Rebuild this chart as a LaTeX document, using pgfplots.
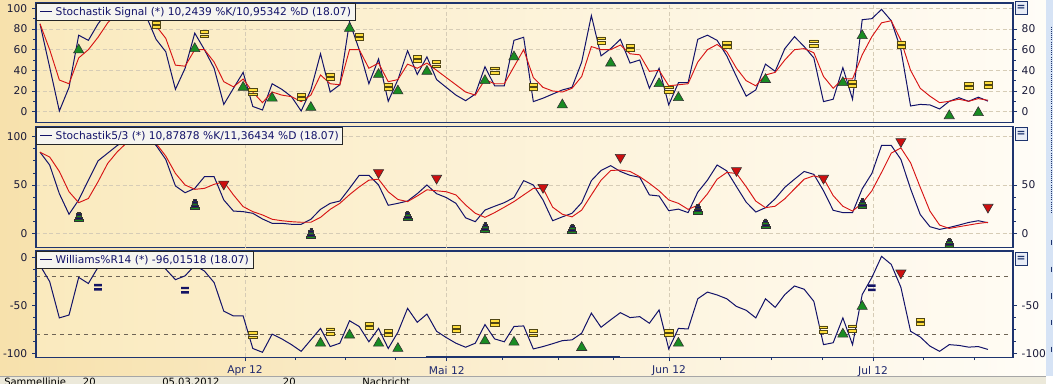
\documentclass[border=0pt]{standalone}
\usepackage{pgfplots}
\pgfplotsset{compat=1.18}
\usepackage{pgfplotstable}
\usepackage{fontspec}
\setmainfont{DejaVu Sans}

\definecolor{bgL}{RGB}{247,225,172}
\definecolor{bgR}{RGB}{255,253,248}
\definecolor{plotL}{RGB}{250,234,190}
\definecolor{plotR}{RGB}{255,251,243}
\definecolor{axnavy}{RGB}{30,52,110}
\definecolor{linenavy}{RGB}{18,18,105}
\definecolor{linered}{RGB}{215,20,20}
\definecolor{gridc}{RGB}{214,204,182}
\definecolor{levelc}{RGB}{110,100,85}
\definecolor{mkgreen}{RGB}{25,140,35}
\definecolor{mkyellow}{RGB}{255,222,60}
\definecolor{mkred}{RGB}{205,15,15}
\definecolor{mknavy}{RGB}{20,20,100}
\definecolor{mkedge}{RGB}{80,70,20}
\definecolor{legfill}{RGB}{246,245,240}
\definecolor{labc}{RGB}{25,25,55}
\definecolor{datec}{RGB}{30,40,110}
\definecolor{statusc}{RGB}{236,233,218}
\definecolor{stripc}{RGB}{214,227,245}
\definecolor{btnfill}{RGB}{232,236,246}

\pgfdeclareplotmark{eqbar}{%
  \pgfpathrectangle{\pgfpoint{-3.1pt}{0.55pt}}{\pgfpoint{6.2pt}{2.1pt}}%
  \pgfpathrectangle{\pgfpoint{-3.1pt}{-2.65pt}}{\pgfpoint{6.2pt}{2.1pt}}%
  \pgfusepathqfillstroke}
\pgfdeclareplotmark{eqnav}{%
  \pgfpathrectangle{\pgfpoint{-2.9pt}{0.7pt}}{\pgfpoint{5.8pt}{1.8pt}}%
  \pgfpathrectangle{\pgfpoint{-2.9pt}{-2.5pt}}{\pgfpoint{5.8pt}{1.8pt}}%
  \pgfusepathqfill}
\pgfdeclareplotmark{cone}{%
  \pgfsetlinewidth{0.35pt}%
  \pgfsetstrokecolor{black!80}%
  \pgfsetfillcolor{mkgreen}%
  \pgfpathrectangle{\pgfpoint{-3.3pt}{-3.6pt}}{\pgfpoint{6.6pt}{1.7pt}}%
  \pgfpathrectangle{\pgfpoint{-2.1pt}{-0.4pt}}{\pgfpoint{4.2pt}{1.4pt}}%
  \pgfusepathqfillstroke
  \pgfsetfillcolor{mknavy}%
  \pgfpathrectangle{\pgfpoint{-2.7pt}{-1.9pt}}{\pgfpoint{5.4pt}{1.5pt}}%
  \pgfpathrectangle{\pgfpoint{-1.6pt}{1.0pt}}{\pgfpoint{3.2pt}{1.4pt}}%
  \pgfpathrectangle{\pgfpoint{-0.8pt}{2.4pt}}{\pgfpoint{1.6pt}{1.1pt}}%
  \pgfusepathqfillstroke}

% Stochastik Signal: k = trading day, b = %K, r = %D
\pgfplotstableread{
k b r
0 85 85
1 43 60
2 0.6 30.6
3 23.5 27
4 74 52
5 69 60
6 85 72
7 97 86
8 100 95
9 100 98
10 96 99
11 92 96
12 70 83
13 58 71
14 21.6 45
15 42 44
16 76 60
17 60 60
18 42 48
19 7 29
20 22.6 24
21 38 31.6
22 5 19
23 1.6 8.7
24 27 19
25 21.6 16
26 14.5 14.5
27 0.6 9.7
28 21 16
29 56 35.5
30 19 27
31 26 26
32 87 60
33 60 60
34 27 42
35 51 47
36 10 29
37 31 31
38 59 46
39 36 42
40 53 47
41 31 40
42 23.5 33
43 16 26
44 10.6 19
45 17 16
46 43.5 31
47 25 27
48 25 27
49 69 43.5
50 72 60
51 9.7 33
52 13 23.5
53 17 20
54 21 19
55 23.5 22.6
56 48 34
57 93 63
58 54 60
59 61 60
60 70 64.5
61 47 56
62 50 55
63 22.6 39
64 42 40
65 6.5 25
66 28 26
67 28 27
68 70 48
69 74 60
70 69 65
71 54 58
72 34 42
73 15 30
74 21 25
75 46 35.5
76 39 38
77 61 50
78 72.6 60
79 63 61
80 52 57
81 9.7 34
82 12 22.6
83 42.6 32
84 12 31.6
85 89 55
86 90 72.6
87 99 86
88 88 88
89 60 69
90 5.5 40
91 7 22.6
92 6.5 15
93 2.6 8.7
94 10 10
95 13.5 12
96 10 10
97 14 12.6
98 10.2 11.0
}\pone

% Stochastik 5/3
\pgfplotstableread{
k b r
0 84 84
1 70.7 79
2 41 64
3 19.7 43
4 34.5 31.7
5 55 36
6 75 53.4
7 83 72.4
8 91 84.5
9 97 94
10 100 99
11 100 98
12 91 93
13 76.5 80
14 49 62
15 42 50
16 46.5 45.5
17 58.6 46.5
18 58.6 50.7
19 34.5 53.4
20 23 39.7
21 22.4 27.6
22 20.7 22.4
23 14.8 19
24 10.3 14.5
25 10.3 13
26 9.3 12
27 9.3 11.4
28 14.5 11.4
29 24.8 16.5
30 31 24.8
31 33.4 31
32 46.5 40
33 60 48
34 60 55
35 50 56
36 29 43
37 31 35
38 33.4 32.8
39 41 38.6
40 50 45
41 41 44
42 37 43
43 31 39.7
44 16 29.3
45 12 20.7
46 24 16.5
47 28 21.4
48 31.7 27
49 37 32.8
50 54.5 39.7
51 50 46.5
52 34.5 46.5
53 13 27
54 17 19.7
55 20.7 17
56 31.7 24
57 54.5 39.7
58 65 55
59 70 65
60 64 65.5
61 60 64
62 58 58.6
63 39.7 51.7
64 38.6 44
65 23.4 34.5
66 25 31
67 21.4 24.8
68 42.5 29
69 55 40.8
70 70.7 56
71 64.6 63
72 48.3 62
73 32.3 48.3
74 22 33.3
75 26.5 26.5
76 35.7 28
77 47.6 35.7
78 56 46
79 64 56
80 61 59.5
81 44 57
82 23.8 39
83 21.4 28
84 21.4 23
85 46 31.3
86 62 44
87 91 63
88 91 83
89 76.5 88.4
90 46 73
91 19.4 47.6
92 6.8 23
93 4 8.5
94 6 5
95 8.5 6.8
96 11.2 8.5
97 13 10.2
98 10.9 11.4
}\ptwo

% Williams %R 14
\pgfplotstableread{
k w
0 -8
1 -25
2 -63
3 -60
4 -20.6
5 -27
6 -10
7 -4
8 -2
9 -6
10 -1
11 -5
12 -3
13 -12
14 -23
15 -19
16 -8
17 -14
18 -26
19 -56
20 -61
21 -61
22 -95
23 -99
24 -80
25 -85
26 -91
27 -98
28 -86
29 -74
30 -93
31 -89.5
32 -66
33 -72
34 -88
35 -74
36 -95
37 -78
38 -53
39 -67.6
40 -59
41 -77
42 -83.6
43 -89.5
44 -93.7
45 -89.5
46 -70
47 -85
48 -88
49 -72
50 -71.4
51 -95.5
52 -93
53 -90
54 -86.8
55 -86
56 -79
57 -58
58 -72.8
59 -65
60 -57.5
61 -62.7
62 -61.7
63 -68.6
64 -54.7
65 -95.5
66 -74
67 -74.6
68 -43
69 -36
70 -39
71 -43
72 -51
73 -55
74 -63
75 -43
76 -52
77 -38.6
78 -29.6
79 -33
80 -45.7
81 -91
82 -89
83 -63
84 -91
85 -38.6
86 -20.7
87 1.4
88 -7
89 -31
90 -77
91 -83
92 -92.5
93 -98
94 -91
95 -91.8
96 -93.6
97 -93
98 -96
}\pthree

\pgfplotsset{
  panel/.style={
    scale only axis, width=732.75pt, anchor=north west,
    xmin=-0.414, xmax=100.59,
    axis line style={draw=axnavy, line width=0.9pt},
    tick style={draw=axnavy, line width=0.6pt},
    axis background/.style={shade, left color=plotL, right color=plotR},
    tick pos=left, tick align=outside,
    major tick length=3pt, minor tick length=2.2pt,
    tick label style={font=\fontsize{8}{9.6}\selectfont},
    yticklabel style={text=labc},
    xticklabel style={text=datec},
    major grid style={densely dashed, gridc, line width=0.5pt},
  },
  monthgrid/.style={
    xtick=\empty,
    extra x ticks={21.19,42.05,65.03,86.12},
    extra x tick labels={},
    extra x tick style={grid=major, major tick length=0pt},
  },
  rightax/.style={
    scale only axis, width=732.75pt, anchor=north west,
    xmin=-0.414, xmax=100.59, clip=false,
    axis x line=none, axis y line*=right,
    axis line style={draw=axnavy, line width=0.9pt},
    tick style={draw=axnavy, line width=0.6pt},
    tick align=outside, major tick length=3pt, minor tick length=2.2pt,
    tick label style={font=\fontsize{8}{9.6}\selectfont, text=labc},
  },
  kline/.style={linenavy, line width=0.75pt},
  dline/.style={linered, line width=0.7pt},
  upmk/.style={only marks, mark=triangle*, mark size=4.4pt,
    mark options={fill=mkgreen, draw=black!80, line width=0.45pt}},
  dnmk/.style={only marks, mark=triangle*, mark size=4.4pt,
    mark options={rotate=180, fill=mkred, draw=black!80, line width=0.45pt}},
  eqmk/.style={only marks, mark=eqbar,
    mark options={fill=mkyellow, draw=mkedge, line width=0.35pt}},
  eqnmk/.style={only marks, mark=eqnav,
    mark options={fill=mknavy}},
  conemk/.style={only marks, mark=cone},
}

\newcommand{\legbox}[1]{\node[anchor=north west, draw=black!85, fill=legfill,
  line width=0.6pt, inner xsep=3pt, inner ysep=1.5pt, minimum height=13pt,
  font=\fontsize{8}{9.6}\selectfont, text=linenavy] at (rel axis cs:0,1)
  {\rule[2.6pt]{8.5pt}{0.75pt}\hspace{3pt}#1};}

\begin{document}
\begin{tikzpicture}
\useasboundingbox (0,0) rectangle (789.75pt,-288pt);
\shade[left color=bgL, right color=bgR] (0,0) rectangle (789.75pt,-282pt);
\fill[stripc] (784.5pt,0) rectangle (789.75pt,-282pt);
\draw[axnavy, densely dotted, line width=0.6pt] (788.5pt,-20pt) -- (788.5pt,-160pt);
\foreach \yy in {-180,-200,-220,-240,-260} {\draw[axnavy, line width=0.8pt] (788.5pt,\yy pt) -- (788.5pt,\yy pt-4pt);}
\begin{scope}
\clip (0,-282pt) rectangle (789.75pt,-288pt);
\fill[statusc] (0,-282pt) rectangle (784.5pt,-288pt);
\draw[black!35, line width=0.6pt] (0,-282pt) -- (784.5pt,-282pt);
\node[anchor=north west, inner sep=0pt, font=\fontsize{7.5}{9}\selectfont] at (3pt,-283.6pt) {Sammellinie};
\node[anchor=north west, inner sep=0pt, font=\fontsize{7.5}{9}\selectfont] at (62pt,-283.6pt) {20};
\node[anchor=north west, inner sep=0pt, font=\fontsize{7.5}{9}\selectfont] at (121.5pt,-283.6pt) {05.03.2012};
\node[anchor=north west, inner sep=0pt, font=\fontsize{7.5}{9}\selectfont] at (212pt,-283.6pt) {20};
\node[anchor=north west, inner sep=0pt, font=\fontsize{7.5}{9}\selectfont] at (271.5pt,-283.6pt) {Nachricht};
\end{scope}

% ---------------- Panel 1 ----------------
\begin{axis}[panel, monthgrid, at={(27pt,-2.25pt)}, height=89.6pt,
  ymin=-10.48, ymax=105.17,
  ytick={0,20,40,60,80,100}, yticklabels={0,20,40,60,80,100},
  minor y tick num=1, ymajorgrids]
\addplot[kline] table[x=k,y=b]{\pone};
\addplot[dline] table[x=k,y=r]{\pone};
\addplot[upmk] coordinates {(4,59.7) (16,61) (21,23.5) (24,13) (28,4) (32,80.6) (35,36) (37,20) (40,39) (46,30) (49,53) (54,6.5) (59,47) (64,27) (66,13.5) (75,31) (83,28) (85,73.5) (94,-4) (97,-1)};
\addplot[eqmk] coordinates {(12,84) (17,75) (22,19) (27,14.5) (30,34) (33,72.6) (36,24) (39,51) (41,46) (47,40) (51,24) (58,69) (61,62) (65,21.6) (71,65) (80,66) (84,27) (89,65) (96,25) (98,26)};
\legbox{Stochastik Signal (*) 10,2439 \%K/10,95342 \%D (18.07)}
\end{axis}
\begin{axis}[rightax, at={(27pt,-2.25pt)}, height=89.6pt,
  ymin=-10.48, ymax=105.17,
  ytick={0,20,40,60,80}, yticklabels={0,20,40,60,80}, minor y tick num=1]
\draw[axnavy, line width=1.8pt] (axis cs:100.59,43) -- (axis cs:100.59,66);
\draw[axnavy, line width=1.8pt] (axis cs:-0.414,38.4) -- (axis cs:-0.414,45);
\end{axis}

% ---------------- Panel 2 ----------------
\begin{axis}[panel, monthgrid, at={(27pt,-95.0pt)}, height=90.75pt,
  ymin=-14.9, ymax=110.4,
  ytick={0,50,100}, yticklabels={0,50,100},
  minor y tick num=3, ymajorgrids]
\addplot[kline] table[x=k,y=b]{\ptwo};
\addplot[dline] table[x=k,y=r]{\ptwo};
\addplot[conemk] coordinates {(4,17) (16,30) (28,0) (38,18) (46,6.2) (55,4.5) (68,25) (75,10) (85,31) (94,-10)};
\addplot[dnmk] coordinates {(19,51) (35,62.8) (41,57) (52,47.6) (60,78.6) (72,65) (81,57) (89,95) (98,27)};
\legbox{Stochastik5/3 (*) 10,87878 \%K/11,36434 \%D (18.07)}
\end{axis}
\begin{axis}[rightax, at={(27pt,-95.0pt)}, height=90.75pt,
  ymin=-14.9, ymax=110.4,
  ytick={0,50}, yticklabels={0,50}, minor y tick num=3]
\draw[axnavy, line width=1.8pt] (axis cs:100.59,35) -- (axis cs:100.59,53);
\draw[axnavy, line width=1.8pt] (axis cs:-0.414,36) -- (axis cs:-0.414,62);
\end{axis}

% ---------------- Panel 3 ----------------
\begin{axis}[panel, at={(27pt,-188.25pt)}, height=79.7pt,
  ymin=-104.2, ymax=7.0,
  ytick={-100,-50,0}, yticklabels={-100,-50,0}, minor y tick num=3,
  xtick={21.19,42.05,65.03,86.12},
  xticklabels={Apr 12,Mai 12,Jun 12,Jul 12},
  minor xtick={26.36,31.53,36.70,47.76,53.55,59.24,70.30,75.58,80.86,91.29,96.56},
  xmajorgrids]
\draw[levelc, dashed, line width=0.5pt] (axis cs:-0.414,-20) -- (axis cs:100.59,-20);
\draw[levelc, dashed, line width=0.5pt] (axis cs:-0.414,-80) -- (axis cs:100.59,-80);
\addplot[kline] table[x=k,y=w]{\pthree};
\addplot[eqnmk] coordinates {(6,-31) (15,-34) (86,-31.4)};
\addplot[eqmk] coordinates {(22,-81) (30,-77) (34,-71) (36,-78.4) (43,-74.6) (47,-68) (51,-79) (65,-78.4) (81,-75) (84,-74) (91,-67)};
\addplot[upmk] coordinates {(29,-89.5) (32,-81) (35,-89.5) (37,-95) (46,-87) (49,-88.5) (56,-94) (66,-89.5) (83,-80) (85,-51)};
\addplot[dnmk] coordinates {(89,-16)};
\legbox{Williams\%R14 (*) -96,01518 (18.07)}
\end{axis}
\begin{axis}[rightax, at={(27pt,-188.25pt)}, height=79.7pt,
  ymin=-104.2, ymax=7.0,
  ytick={-100,-50}, yticklabels={-100,-50}, minor y tick num=3]
\draw[axnavy, line width=1.8pt] (axis cs:100.59,-34) -- (axis cs:100.59,-58);
\draw[axnavy, line width=1.8pt] (axis cs:-0.414,-38) -- (axis cs:-0.414,-58);
\draw[axnavy, line width=1.8pt] (axis cs:39.9,-104.2) -- (axis cs:60,-104.2);
\end{axis}

% buttons
\foreach \by in {-6.25,-100.1,-194.0} {
  \node[draw=axnavy, fill=btnfill, line width=0.6pt, minimum width=9pt, minimum height=9.75pt,
    inner sep=0pt, font=\fontsize{8}{8}\selectfont\bfseries, text=axnavy] at (765.75pt,\by pt) {=};
}
\end{tikzpicture}
\end{document}
